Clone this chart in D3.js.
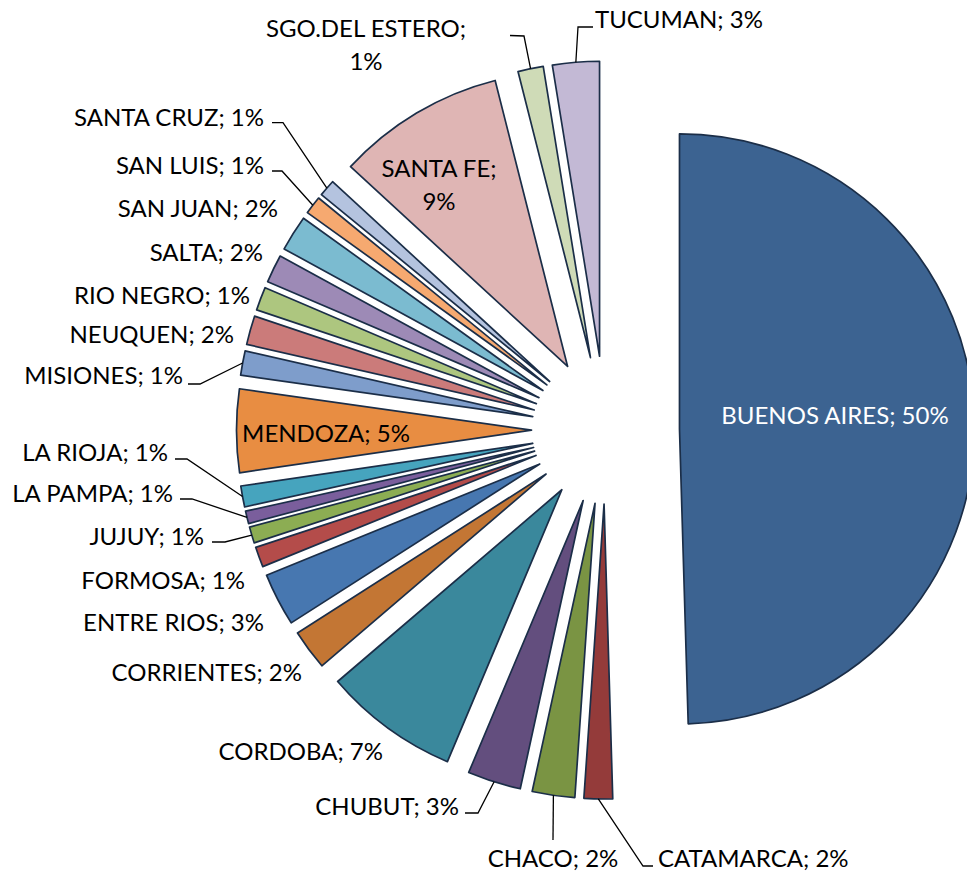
<!DOCTYPE html>
<html><head><meta charset="utf-8">
<script src="https://cdn.jsdelivr.net/npm/d3@7"></script>
<style>html,body{margin:0;padding:0;background:#fff;} svg{display:block;}</style>
</head><body>
<script>
const categories = ["BUENOS AIRES","CATAMARCA","CHACO","CHUBUT","CORDOBA","CORRIENTES","ENTRE RIOS","FORMOSA","JUJUY","LA PAMPA","LA RIOJA","MENDOZA","MISIONES","NEUQUEN","RIO NEGRO","SALTA","SAN JUAN","SAN LUIS","SANTA CRUZ","SANTA FE","SGO.DEL ESTERO","TUCUMAN"];
const values = [49.53,1.56,2.33,2.92,7.40,2.21,2.90,1.11,0.89,0.69,1.15,4.55,1.33,1.58,1.28,1.54,1.96,0.99,0.92,9.21,1.39,2.56];
const colors = ["#3C6391","#943B3A","#7A9443","#634E7E","#3A889C","#C37634","#4777B0","#B44C4A","#8CAD53","#7A5E9C","#46A4BE","#E88D42","#7E9DCB","#CB7B7A","#ADC67F","#9D8AB6","#7BBBD0","#F6A970","#B4C3DF","#DFB5B4","#CFDBB7","#C3B9D5"];

// label layout (text anchor x, cap-centre y, anchor, optional leader elbow points)
const labelLayout = [
 {x:835, y:415, anchor:"middle", fill:"#fff"},
 {x:658, y:858, anchor:"start", leader:[[643,866],[653,866]]},
 {x:553, y:858, anchor:"middle", leader:[[553,840]]},
 {x:459, y:806, anchor:"end", leader:[[478,813],[465,813]]},
 {x:383, y:751, anchor:"end"},
 {x:302, y:672.5, anchor:"end"},
 {x:264, y:622.5, anchor:"end"},
 {x:245, y:580.5, anchor:"end"},
 {x:204, y:536, anchor:"end", leader:[[225,542],[212,542]]},
 {x:173, y:493, anchor:"end", leader:[[192,499],[180,499]]},
 {x:168, y:452, anchor:"end", leader:[[187,459],[175,459]]},
 {x:326, y:433, anchor:"middle"},
 {x:183, y:375, anchor:"end", leader:[[200,384],[188,384]]},
 {x:234, y:334.5, anchor:"end"},
 {x:250, y:295, anchor:"end"},
 {x:263, y:252, anchor:"end"},
 {x:278, y:208.5, anchor:"end"},
 {x:264, y:165.5, anchor:"end", leader:[[282,171],[272,171]]},
 {x:264, y:117, anchor:"end", leader:[[283,122.7],[272,122.7]]},
 {x:439, y:168, anchor:"middle", split:true, gap:33},
 {x:366, y:28.5, anchor:"middle", split:true, gap:33, leader:[[524,36],[510,35.5]]},
 {x:595, y:19.5, anchor:"start", leader:[[578,27],[593,27]]}
];

const W = 967, H = 873;
const cx = 605.5, cy = 430, R = 295, explode = 74;
const fontSize = 24;

const svg = d3.select("body").append("svg").attr("width", W).attr("height", H)
  .style("font-family", "Lato, 'Noto Sans', sans-serif");

const total = d3.sum(values);
const pie = d3.pie().sort(null).value(d => d)(values);
const arc = d3.arc().innerRadius(0).outerRadius(R);

const g = svg.append("g").attr("transform", `translate(${cx},${cy})`);
const dir = d => { const m = (d.startAngle + d.endAngle) / 2; return [Math.sin(m), -Math.cos(m)]; };

g.selectAll("path.slice").data(pie).join("path")
  .attr("class", "slice")
  .attr("d", arc)
  .attr("transform", d => { const [dx, dy] = dir(d); return `translate(${dx*explode},${dy*explode})`; })
  .attr("fill", (d, i) => colors[i])
  .attr("stroke", "#1B2E48")
  .attr("stroke-width", 1.7)
  .attr("stroke-linejoin", "round");

// leader lines
pie.forEach((d, i) => {
  const L = labelLayout[i];
  if (!L.leader) return;
  const [dx, dy] = dir(d);
  const p0 = [cx + dx*(explode + R), cy + dy*(explode + R)];
  const pts = [p0, ...L.leader];
  svg.append("path")
    .attr("d", d3.line()(pts))
    .attr("fill", "none").attr("stroke", "#000").attr("stroke-width", 1.3);
});

// labels
pie.forEach((d, i) => {
  const L = labelLayout[i];
  const pct = Math.round(values[i] / total * 100) + "%";
  const lines = L.split ? [categories[i] + ";", pct] : [categories[i] + "; " + pct];
  lines.forEach((t, k) => {
    svg.append("text")
      .attr("x", L.x)
      .attr("y", L.y + (k * (L.gap || 0)) + fontSize * 0.36)
      .attr("text-anchor", L.anchor)
      .attr("font-size", fontSize)
      .attr("fill", L.fill || "#000")
      .text(t);
  });
});
</script>
</body></html>
